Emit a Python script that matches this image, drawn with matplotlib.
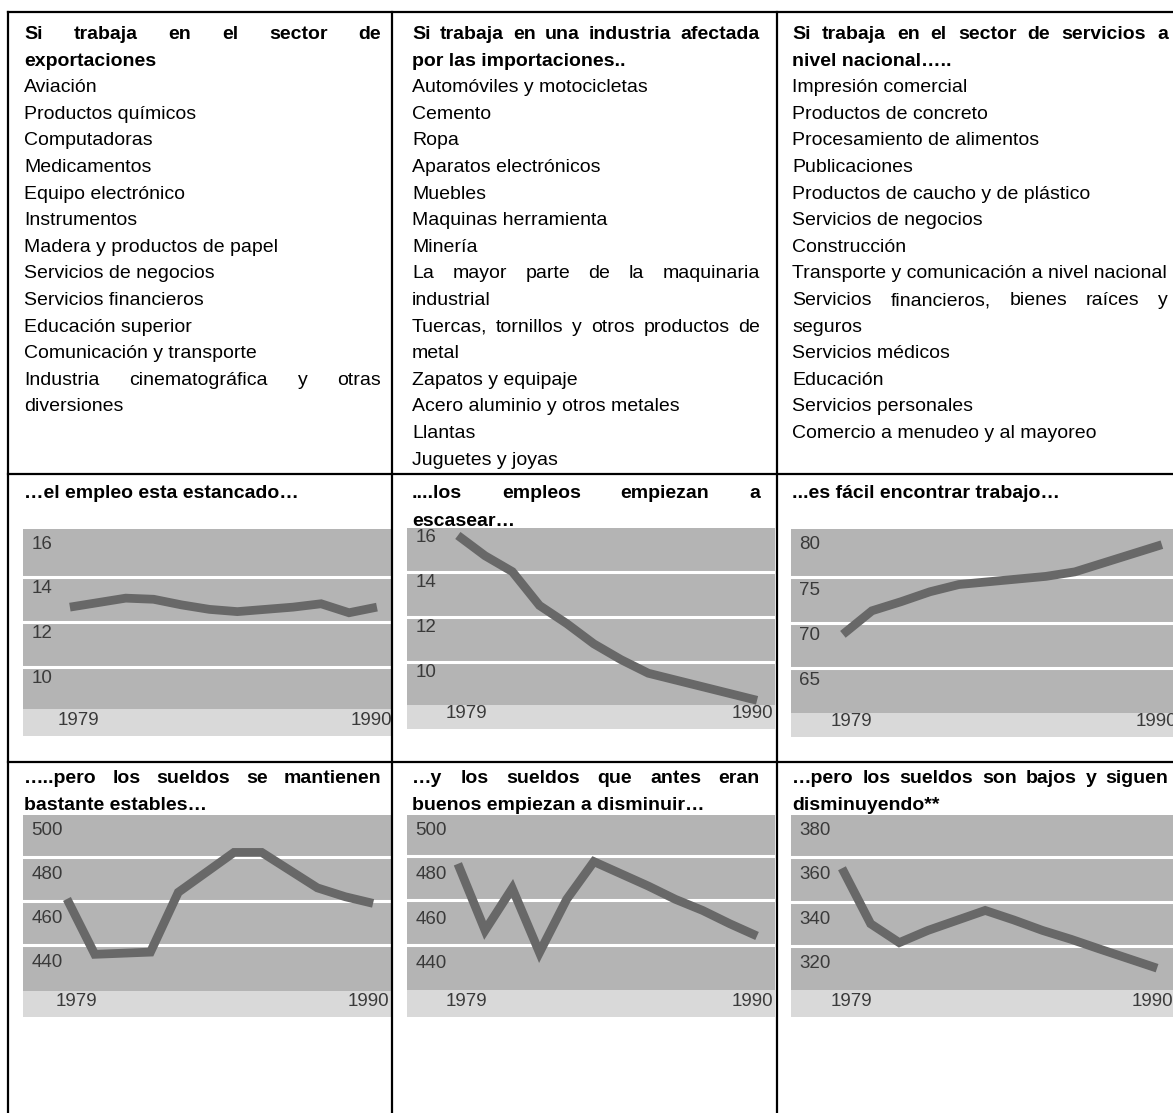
import matplotlib
matplotlib.use("Agg")
import matplotlib.pyplot as plt
from matplotlib.lines import Line2D
from matplotlib.transforms import ScaledTranslation

W, H = 1173, 1113
plt.rcParams["font.family"] = ["Liberation Sans", "DejaVu Sans"]

# ---- data ----
YEARS = [1979, 1980, 1981, 1982, 1983, 1984, 1985, 1986, 1987, 1988, 1989, 1990]
year_labels = ["1979", "1990"]

emp_export = [13.1, 13.3, 13.5, 13.45, 13.2, 13.0, 12.9, 13.0, 13.1, 13.25, 12.85, 13.1]
emp_import = [16.0, 15.1, 14.4, 12.9, 12.1, 11.2, 10.5, 9.9, 9.6, 9.3, 9.0, 8.7]
emp_service = [69.9, 72.5, 73.5, 74.6, 75.4, 75.7, 76.0, 76.3, 76.8, 77.8, 78.8, 79.8]
wage_export = [468, 443, 443.5, 444, 471, 480, 489, 489, 481, 473, 469, 466]
wage_import = [484, 454, 473, 444, 468, 485, 479.5, 474, 468, 463, 457, 451.5]
wage_service = [362, 337, 328.5, 334, 338.5, 343, 338.7, 334, 330, 325.6, 321.3, 317]

emp_export_ticks = [16, 14, 12, 10]
emp_import_ticks = [16, 14, 12, 10]
emp_service_ticks = [80, 75, 70, 65]
wage_export_ticks = [500, 480, 460, 440]
wage_import_ticks = [500, 480, 460, 440]
wage_service_ticks = [380, 360, 340, 320]

# header cells: (text, bold, justified)
col_export = [
    ("Si trabaja en el sector de", True, True),
    ("exportaciones", True, False),
    ("Aviación", False, False),
    ("Productos químicos", False, False),
    ("Computadoras", False, False),
    ("Medicamentos", False, False),
    ("Equipo electrónico", False, False),
    ("Instrumentos", False, False),
    ("Madera y productos de papel", False, False),
    ("Servicios de negocios", False, False),
    ("Servicios financieros", False, False),
    ("Educación superior", False, False),
    ("Comunicación y transporte", False, False),
    ("Industria cinematográfica y otras", False, True),
    ("diversiones", False, False),
]
col_import = [
    ("Si trabaja en una industria afectada", True, True),
    ("por las importaciones..", True, False),
    ("Automóviles y motocicletas", False, False),
    ("Cemento", False, False),
    ("Ropa", False, False),
    ("Aparatos electrónicos", False, False),
    ("Muebles", False, False),
    ("Maquinas herramienta", False, False),
    ("Minería", False, False),
    ("La mayor parte de la maquinaria", False, True),
    ("industrial", False, False),
    ("Tuercas, tornillos y otros productos de", False, True),
    ("metal", False, False),
    ("Zapatos y equipaje", False, False),
    ("Acero aluminio y otros metales", False, False),
    ("Llantas", False, False),
    ("Juguetes y joyas", False, False),
]
col_service = [
    ("Si trabaja en el sector de servicios a", True, True),
    ("nivel nacional…..", True, False),
    ("Impresión comercial", False, False),
    ("Productos de concreto", False, False),
    ("Procesamiento de alimentos", False, False),
    ("Publicaciones", False, False),
    ("Productos de caucho y de plástico", False, False),
    ("Servicios de negocios", False, False),
    ("Construcción", False, False),
    ("Transporte y comunicación a nivel nacional", False, False),
    ("Servicios financieros, bienes raíces y", False, True),
    ("seguros", False, False),
    ("Servicios médicos", False, False),
    ("Educación", False, False),
    ("Servicios personales", False, False),
    ("Comercio a menudeo y al mayoreo", False, False),
]
emp_titles = [
    [("…el empleo esta estancado…", True, False)],
    [("....los empleos empiezan a", True, True), ("escasear…", True, False)],
    [("...es fácil encontrar trabajo…", True, False)],
]
wage_titles = [
    [("…..pero los sueldos se mantienen", True, True), ("bastante estables…", True, False)],
    [("…y los sueldos que antes eran", True, True), ("buenos empiezan a disminuir…", True, False)],
    [("…pero los sueldos son bajos y siguen", True, True), ("disminuyendo**", True, False)],
]

fig = plt.figure(figsize=(W / 100, H / 100), dpi=100)
fig.patch.set_facecolor("white")
renderer = fig.canvas.get_renderer()


def fx(x):
    return x / W


def fy(y):
    return 1 - y / H


FS = 14


def text_line(x0, x1, y, s, bold, justify):
    kw = dict(fontsize=FS, fontweight="bold" if bold else "normal",
              va="baseline", ha="left", color="black")
    yb = fy(y + 7)
    if not justify:
        fig.text(fx(x0), yb, s, **kw)
        return
    words = s.split()
    arts = [fig.text(0, yb, w, **kw) for w in words]
    widths = [a.get_window_extent(renderer).width for a in arts]
    gap = (x1 - x0 - sum(widths)) / (len(words) - 1)
    x = x0
    for a, w in zip(arts, widths):
        a.set_x(fx(x))
        x += w + gap


def cell_text(lines, x0, x1, y_first, step):
    for i, (s, b, j) in enumerate(lines):
        text_line(x0, x1, y_first + i * step, s, b, j)


COLS = [(24, 381), (412, 760), (792, 1168)]
for (x0, x1), lines in zip(COLS, [col_export, col_import, col_service]):
    cell_text(lines, x0, x1, 32, 26.6)
for (x0, x1), lines in zip(COLS, emp_titles):
    cell_text(lines, x0, x1, 491, 27.5)
for (x0, x1), lines in zip(COLS, wage_titles):
    cell_text(lines, x0, x1, 776, 27.5)


def chart(box, ylim, band_top, xlim, ticks, grid_off, values):
    x0, y0, x1, y1 = box
    ax = fig.add_axes([fx(x0), fy(y1), (x1 - x0) / W, (y1 - y0) / H])
    ax.set_facecolor("#b4b4b4")
    ax.set_xlim(*xlim)
    ax.set_ylim(*ylim)
    ax.axhspan(ylim[0], band_top, color="#d9d9d9", lw=0, zorder=0.5)
    for t in ticks[1:]:
        ax.axhline(t + grid_off, color="white", lw=2.2, zorder=1)
    ax.plot(YEARS, values, color="#686868", lw=6.3,
            solid_joinstyle="miter", solid_capstyle="butt", zorder=3)
    ax.set_yticks(ticks)
    ax.set_yticklabels([str(t) for t in ticks], ha="left")
    ax.set_xticks([YEARS[0], YEARS[-1]])
    ax.set_xticklabels(year_labels)
    ax.tick_params(axis="y", length=0, pad=-6, labelsize=13.5, labelcolor="#3a3a3a")
    ax.tick_params(axis="x", length=0, pad=-17.5, labelsize=13.5, labelcolor="#3a3a3a")
    # the printed year labels sit slightly inward of the first/last point
    xl = ax.get_xticklabels()
    for lab, dx in zip(xl, (9, -5)):
        lab.set_transform(lab.get_transform() + ScaledTranslation(dx / 100, 0, fig.dpi_scale_trans))
    for s in ax.spines.values():
        s.set_visible(False)
    return ax


chart((23, 529, 392, 736), (7.36, 16.58), 8.55, (1977.32, 1990.54),
      emp_export_ticks, 0.45, emp_export)
chart((407, 528, 775, 729), (7.43, 16.33), 8.49, (1977.13, 1990.66),
      emp_import_ticks, 0.4, emp_import)
chart((791, 529, 1190, 737), (58.57, 81.53), 61.22, (1977.21, 1990.97),
      emp_service_ticks, 1.2, emp_service)
chart((23, 815, 392, 1017), (414.7, 505.9), 426.5, (1977.42, 1990.68),
      wage_export_ticks, 7, wage_export)
chart((407, 815, 775, 1017), (415.0, 506.0), 427.0, (1977.13, 1990.66),
      wage_import_ticks, 7.5, wage_import)
chart((791, 815, 1190, 1017), (295.0, 386.0), 307.0, (1977.22, 1991.15),
      wage_service_ticks, 7, wage_service)

# table rules
for y in (12, 474, 762):
    fig.add_artist(Line2D([fx(8), fx(1173)], [fy(y), fy(y)], color="black", lw=1.6))
for x in (8, 392, 777):
    fig.add_artist(Line2D([fx(x), fx(x)], [fy(12), fy(1113)], color="black", lw=1.6))

fig.savefig("out.png", dpi=100)
